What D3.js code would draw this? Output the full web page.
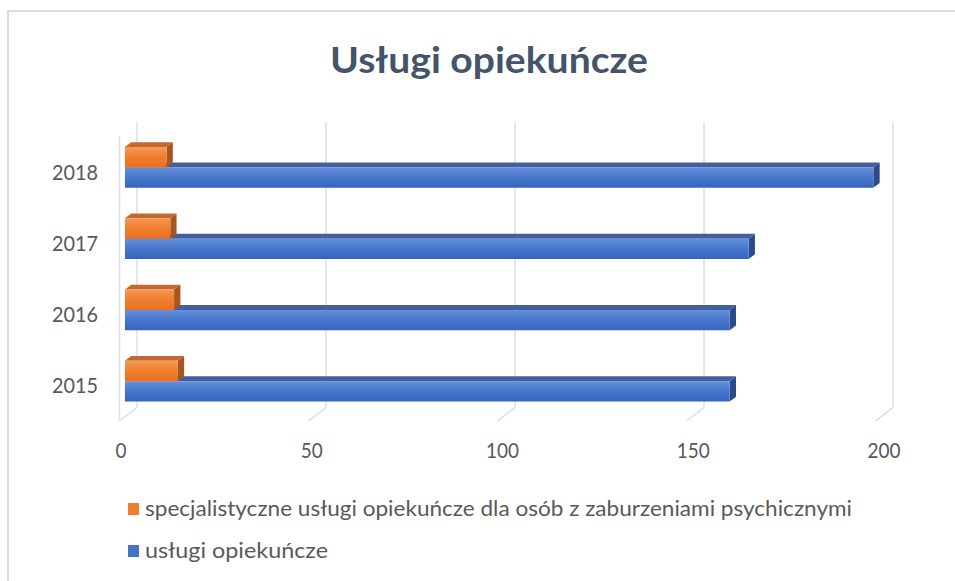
<!DOCTYPE html>
<html>
<head>
<meta charset="utf-8">
<script src="https://cdn.jsdelivr.net/npm/d3@7"></script>
<style>
  html, body { margin: 0; padding: 0; background: #fff; }
  svg { display: block; }
  text { font-family: Lato, "Open Sans", sans-serif; }
</style>
</head>
<body>
<svg id="chart" width="955" height="581"></svg>
<script>
// Data
const years = ["2018", "2017", "2016", "2015"];
const specjalistyczne = [11, 12, 13, 14];
const opiekuncze = [198, 165, 160, 160];
const xTicks = [0, 50, 100, 150, 200];
const seriesNames = [
  "specjalistyczne usługi opiekuńcze dla osób z zaburzeniami psychicznymi",
  "usługi opiekuńcze"
];
const title = "Usługi opiekuńcze";

const svg = d3.select("#chart");

// chart frame
svg.append("rect")
  .attr("x", 8).attr("y", 11).attr("width", 960).attr("height", 600)
  .attr("fill", "#fff").attr("stroke", "#d9dce1").attr("stroke-width", 2);

// title
svg.append("text")
  .attr("x", 489).attr("y", 73)
  .attr("text-anchor", "middle")
  .attr("font-size", 37).attr("font-weight", 700)
  .attr("fill", "#44546a")
  .attr("textLength", 318).attr("lengthAdjust", "spacingAndGlyphs")
  .text(title);

// 3D projection: front plane scales plus a depth offset vector
const x = d3.scaleLinear().domain([0, 200]).range([119.5, 875.5]);
const frontTop = 136, frontBottom = 421;
const depth = [17.5, -13.5];
const y = d3.scaleBand().domain(years).range([frontTop, frontBottom])
  .paddingInner(1.5 / 3.5).paddingOuter(0.75 / 3.5);
const ySeries = d3.scaleBand().domain([0, 1]).range([0, y.bandwidth()]);
const t0 = 0.31, t1 = 0.67; // bar front / back depth fractions

const P = (v, yy, t) => [x(v) + t * depth[0], yy + t * depth[1]];
const poly = pts => "M" + pts.map(p => p.join(",")).join("L") + "Z";

const gridColor = "#dfe2e8";
const grid = svg.append("g");
// back wall gridlines
grid.selectAll("line.back").data(xTicks).join("line")
  .attr("x1", d => P(d, frontTop, 1)[0]).attr("y1", d => P(d, frontTop, 1)[1])
  .attr("x2", d => P(d, frontBottom, 1)[0]).attr("y2", d => P(d, frontBottom, 1)[1])
  .attr("stroke", gridColor).attr("stroke-width", 1.6);
// floor gridlines
grid.selectAll("line.floor").data(xTicks).join("line")
  .attr("x1", d => P(d, frontBottom, 0)[0]).attr("y1", d => P(d, frontBottom, 0)[1])
  .attr("x2", d => P(d, frontBottom, 1)[0]).attr("y2", d => P(d, frontBottom, 1)[1])
  .attr("stroke", gridColor).attr("stroke-width", 1.6);
// side wall front edge
grid.append("line")
  .attr("x1", x(0)).attr("y1", frontTop).attr("x2", x(0)).attr("y2", frontBottom)
  .attr("stroke", gridColor).attr("stroke-width", 1.6);

// gradients for bar fronts
const defs = svg.append("defs");
function grad(id, stops) {
  const g = defs.append("linearGradient").attr("id", id)
    .attr("x1", 0).attr("y1", 0).attr("x2", 0).attr("y2", 1);
  stops.forEach(s => g.append("stop").attr("offset", s[0]).attr("stop-color", s[1]));
}
grad("gOrange", [[0, "#f69a55"], [0.45, "#f07f30"], [1, "#e8701f"]]);
grad("gBlue", [[0, "#6590dc"], [0.45, "#4a78cc"], [1, "#3464be"]]);

const styles = [
  { front: "url(#gOrange)", top: "#c3682f", side: "#a9551f" },
  { front: "url(#gBlue)", top: "#42609c", side: "#2c4b8a" }
];

const bars = svg.append("g");
years.forEach((yr, i) => {
  // blue first, orange above it so its front covers the blue top face
  [[1, opiekuncze[i]], [0, specjalistyczne[i]]].forEach(([s, v]) => {
    const yTop = y(yr) + ySeries(s);
    const yBot = yTop + ySeries.bandwidth();
    const st = styles[s];
    const g = bars.append("g");
    g.append("path").attr("d", poly([P(0, yTop, t0), P(v, yTop, t0), P(v, yTop, t1), P(0, yTop, t1)]))
      .attr("fill", st.top);
    g.append("path").attr("d", poly([P(v, yTop, t0), P(v, yTop, t1), P(v, yBot, t1), P(v, yBot, t0)]))
      .attr("fill", st.side);
    g.append("path").attr("d", poly([P(0, yTop, t0), P(v, yTop, t0), P(v, yBot, t0), P(0, yBot, t0)]))
      .attr("fill", st.front);
  });
});

// category labels
svg.append("g").selectAll("text").data(years).join("text")
  .attr("x", 98).attr("y", d => y(d) + y.bandwidth() / 2 + 8)
  .attr("text-anchor", "end").attr("font-size", 21).attr("fill", "#595959")
  .attr("textLength", 46).attr("lengthAdjust", "spacingAndGlyphs")
  .text(d => d);

// value axis labels
const xl = d3.scaleLinear().domain([0, 200]).range([121, 884]);
svg.append("g").selectAll("text").data(xTicks).join("text")
  .attr("x", d => xl(d)).attr("y", 458)
  .attr("text-anchor", "middle").attr("font-size", 21).attr("fill", "#595959")
  .attr("textLength", d => String(d).length * 11).attr("lengthAdjust", "spacingAndGlyphs")
  .text(d => d);

// legend
const legendColors = ["#ed7d31", "#4472c4"];
const legendY = [509, 551];
const legendW = [707, 183];
const lg = svg.append("g");
seriesNames.forEach((name, i) => {
  lg.append("rect").attr("x", 128).attr("y", legendY[i] - 6).attr("width", 11).attr("height", 12)
    .attr("fill", legendColors[i]);
  lg.append("text").attr("x", 145).attr("y", legendY[i] + 7)
    .attr("font-size", 21).attr("fill", "#595959")
    .attr("textLength", legendW[i]).attr("lengthAdjust", "spacingAndGlyphs")
    .text(name);
});
</script>
</body>
</html>
